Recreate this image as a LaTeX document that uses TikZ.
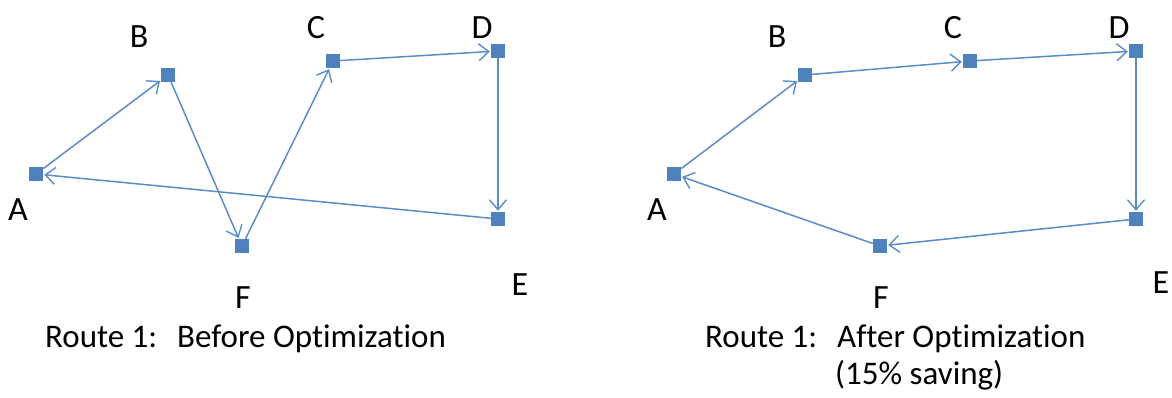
\documentclass[tikz,border=0pt]{standalone}
\usepackage{fontspec}
\setmainfont{Carlito}[RawFeature={-liga}]
\usetikzlibrary{arrows.meta}
\definecolor{nodeblue}{HTML}{4F81BD}
\definecolor{lineblue}{HTML}{5B8CC8}
\tikzset{
  stopbox/.style={rectangle, fill=nodeblue, minimum size=14pt, inner sep=0pt},
  labtxt/.style={anchor=base, font=\fontsize{34}{40}\selectfont, inner sep=0pt},
  captxt/.style={anchor=base west, font=\fontsize{33}{40}\selectfont, inner sep=0pt},
  route/.style={draw=lineblue, line width=1.5pt, -{Straight Barb[length=10pt,width=17pt,line width=1.4pt]}, shorten >=1pt},
}
\begin{document}
\begin{tikzpicture}[x=1pt,y=-1pt]
\useasboundingbox (0,0) rectangle (1172,398);
% left
\node[stopbox] (lA) at (36,174) {};
\node[stopbox] (lB) at (168,75) {};
\node[stopbox] (lC) at (333,61) {};
\node[stopbox] (lD) at (498,51) {};
\node[stopbox] (lE) at (498,219) {};
\node[stopbox] (lF) at (242,246) {};
\node[labtxt] (llA) at (18,220) {A};
\node[labtxt] (llB) at (139,48) {B};
\node[labtxt] (llC) at (316,39) {C};
\node[labtxt] (llD) at (482,39) {D};
\node[labtxt] (llE) at (520,295) {E};
\node[labtxt] (llF) at (243,308) {F};
\draw[route] (lA) -- (lB);
\draw[route] (lB) -- (lF);
\draw[route] (lF) -- (lC);
\draw[route] (lC) -- (lD);
\draw[route] (lD) -- (lE);
\draw[route] (lE) -- (lA);
\node[captxt] (lc1) at (45,347) {Route 1:};
\node[captxt] (lc2) at (177,347) {Before Optimization};
% right
\node[stopbox] (rA) at (674,174) {};
\node[stopbox] (rB) at (805,75) {};
\node[stopbox] (rC) at (970,61) {};
\node[stopbox] (rD) at (1136,51) {};
\node[stopbox] (rE) at (1136,219) {};
\node[stopbox] (rF) at (880,246) {};
\node[labtxt] (rlA) at (657,220) {A};
\node[labtxt] (rlB) at (777,48) {B};
\node[labtxt] (rlC) at (953,39) {C};
\node[labtxt] (rlD) at (1119,39) {D};
\node[labtxt] (rlE) at (1161,293) {E};
\node[labtxt] (rlF) at (881,308) {F};
\draw[route] (rA) -- (rB);
\draw[route] (rB) -- (rC);
\draw[route] (rC) -- (rD);
\draw[route] (rD) -- (rE);
\draw[route] (rE) -- (rF);
\draw[route] (rF) -- (rA);
\node[captxt] (rc1) at (705,347) {Route 1:};
\node[captxt] (rc2) at (837,347) {After Optimization};
\node[captxt] (rc3) at (835,384) {(15\% saving)};
\end{tikzpicture}
\end{document}
